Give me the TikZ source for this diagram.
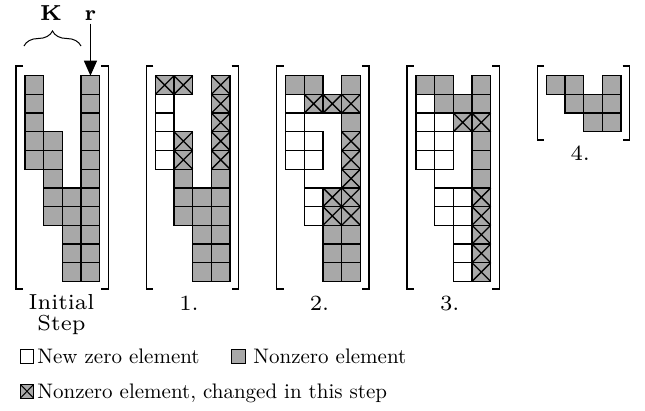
\documentclass[tikz,border=0pt]{standalone}
\usetikzlibrary{arrows.meta,decorations.pathreplacing}
\definecolor{cellgray}{RGB}{168,168,168}
\tikzset{
  cellline/.style={line width=1.3pt, draw=black, line join=miter},
  gcell/.style={cellline, fill=cellgray},
  wcell/.style={cellline, fill=white},
  lbl/.style={font=\fontsize{10}{12}\selectfont, scale=2.1, transform shape, inner sep=0pt},
  steplbl/.style={font=\fontsize{7}{6.8}\selectfont, scale=3.1, transform shape, inner sep=0pt},
  bracketline/.style={line width=1.4pt},
  legbox/.style={line width=1pt, draw=black},
}
\newcommand\cellsz{18.7}
\newcommand\gridtop{75.7}
\newcommand\Gcells[2]{\foreach \cc/\rr in {#2}{\draw[gcell] ({#1+\cc*\cellsz},{\gridtop+\rr*\cellsz}) rectangle ++(\cellsz,\cellsz);}}
\newcommand\Wcells[2]{\foreach \cc/\rr in {#2}{\draw[wcell] ({#1+\cc*\cellsz},{\gridtop+\rr*\cellsz}) rectangle ++(\cellsz,\cellsz);}}
\newcommand\Xcells[2]{\foreach \cc/\rr in {#2}{\draw[gcell] ({#1+\cc*\cellsz},{\gridtop+\rr*\cellsz}) rectangle ++(\cellsz,\cellsz);
  \draw[cellline] ({#1+\cc*\cellsz},{\gridtop+\rr*\cellsz}) -- ++(\cellsz,\cellsz) ({#1+\cc*\cellsz+\cellsz},{\gridtop+\rr*\cellsz}) -- ++(-\cellsz,\cellsz);}}
\newcommand\Ledge[3]{\draw[cellline] ({#1+#2*\cellsz},{\gridtop+#3*\cellsz}) -- ++(0,\cellsz);}
\newcommand\Brk[3]{% grid left, top, bottom
  \draw[bracketline] ({#1-2},#2) -- ({#1-9},#2) -- ({#1-9},#3) -- ({#1-2},#3);
  \draw[bracketline] ({#1+4*\cellsz+1.5},#2) -- ({#1+4*\cellsz+8.5},#2) -- ({#1+4*\cellsz+8.5},#3) -- ({#1+4*\cellsz+1.5},#3);}
\begin{document}
\begin{tikzpicture}[x=1pt,y=-1pt]
\useasboundingbox (0,0) rectangle (645,410);
% Initial step
\def\La{25}
\Gcells{\La}{0/0,0/1,0/2,0/3,0/4,1/3,1/4,1/5,1/6,1/7,2/6,2/7,2/8,2/9,2/10,3/0,3/1,3/2,3/3,3/4,3/5,3/6,3/7,3/8,3/9,3/10}
\Brk{\La}{66}{289}
% Step 1
\def\Lb{155.3}
\Wcells{\Lb}{0/1,0/2,0/3,0/4}
\Gcells{\Lb}{1/5,1/6,1/7,2/6,2/7,2/8,2/9,2/10,3/5,3/6,3/7,3/8,3/9,3/10}
\Xcells{\Lb}{0/0,1/0,1/3,1/4,3/0,3/1,3/2,3/3,3/4}
\Brk{\Lb}{66}{289}
% Step 2
\def\Lc{285.6}
\Wcells{\Lc}{0/1,0/2,0/3,0/4,1/3,1/4,1/6,1/7}
\Ledge{\Lc}{1}{5}
\Gcells{\Lc}{0/0,1/0,3/0,3/2,2/8,2/9,2/10,3/8,3/9,3/10}
\Xcells{\Lc}{1/1,2/1,3/1,3/3,3/4,3/5,3/6,3/7,2/6,2/7}
\Brk{\Lc}{66}{289}
% Step 3
\def\Ld{415.9}
\Wcells{\Ld}{0/1,0/2,0/3,0/4,1/2,1/3,1/4,1/6,1/7,2/6,2/7,2/8,2/9,2/10}
\Ledge{\Ld}{1}{5}
\Gcells{\Ld}{0/0,1/0,3/0,1/1,2/1,3/1,3/3,3/4,3/5}
\Xcells{\Ld}{2/2,3/2,3/6,3/7,3/8,3/9,3/10}
\Brk{\Ld}{66}{289}
% Step 4
\def\Le{546.2}
\Gcells{\Le}{0/0,1/0,3/0,1/1,2/1,3/1,2/2,3/2}
\Brk{\Le}{66}{140}
% labels under matrices
\node[steplbl, align=center, anchor=north] (tInitial) at (61.5,294) {Initial\\Step};
\node[steplbl, anchor=base] (tOne) at (189,310) {1.};
\node[steplbl, anchor=base] (tTwo) at (319.5,310) {2.};
\node[steplbl, anchor=base] (tThree) at (449.8,310) {3.};
\node[steplbl, anchor=base] (tFour) at (580.2,160) {4.};
% K and r
\node[steplbl, anchor=base, font=\fontsize{7}{8}\selectfont\bfseries] (tK) at (51,20) {K};
\node[steplbl, anchor=base, font=\fontsize{7}{8}\selectfont\bfseries] (tr) at (90.45,20) {r};
\coordinate (rtip) at (90.45,75.7);
\draw[line width=1.2pt, -{Triangle[length=15pt,width=13pt]}] (tr.south) ++(0,3) -- (rtip);
\coordinate (braceL) at (24,46);
\coordinate (braceR) at (81,46);
\draw[line width=1pt, decorate, decoration={brace, amplitude=15pt}] (braceL) -- (braceR);
% legend
\draw[legbox, fill=white] (20.5,349.5) rectangle (33.5,363);
\node[lbl, anchor=base west] (tNewZero) at (37,363) {New zero element};
\draw[legbox, fill=cellgray] (231.5,349.5) rectangle (245,363);
\node[lbl, anchor=base west] (tNonzero) at (253,363) {Nonzero element};
\draw[legbox, fill=cellgray] (20.5,384.5) rectangle (33.5,398);
\draw[legbox] (20.5,384.5) -- (33.5,398) (33.5,384.5) -- (20.5,398);
\node[lbl, anchor=base west] (tChanged) at (37,398) {Nonzero element, changed in this step};
\end{tikzpicture}
\end{document}
